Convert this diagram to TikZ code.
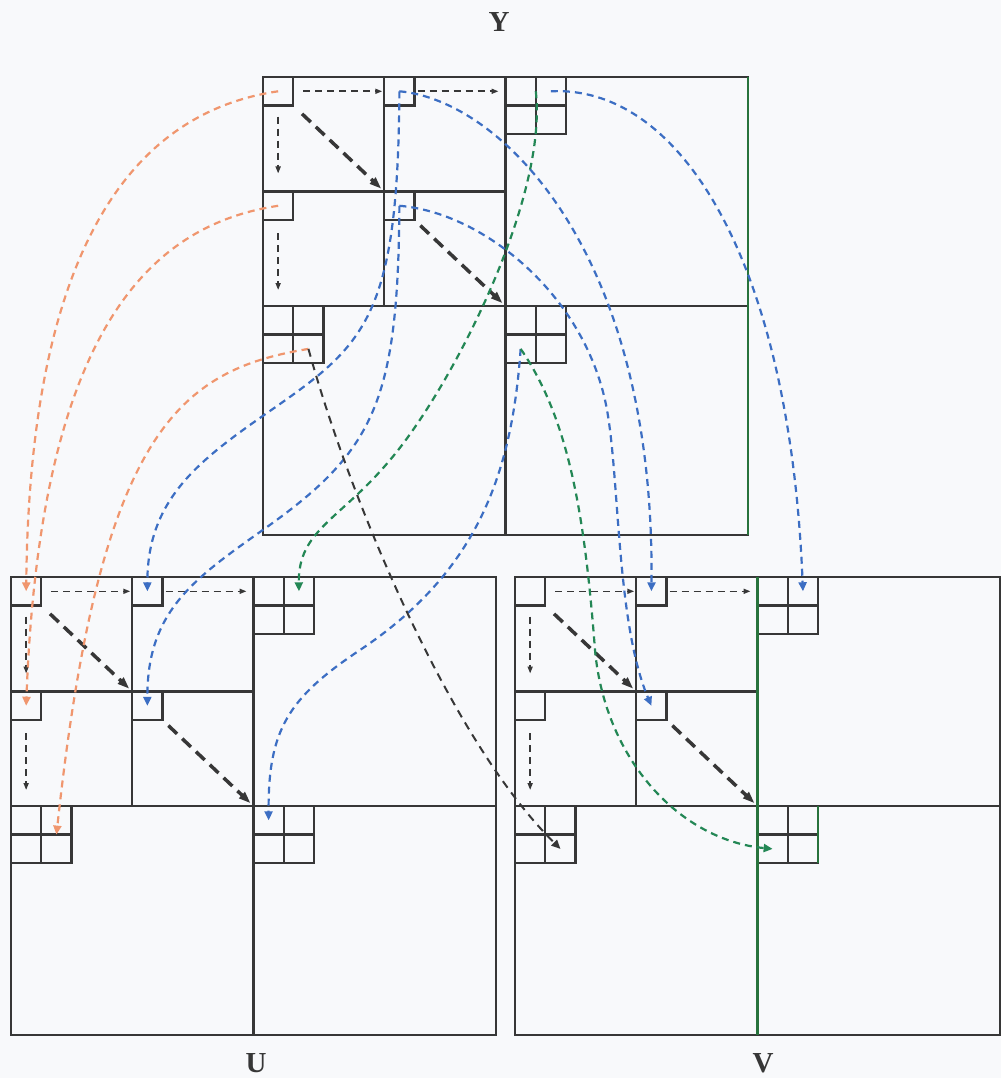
\documentclass[tikz,border=0pt]{standalone}
\usepackage{fontspec}
\setmainfont{Liberation Serif}
\usetikzlibrary{arrows.meta}
\definecolor{gridgray}{RGB}{55,55,55}
\definecolor{lineorange}{RGB}{240,150,110}
\definecolor{lineblue}{RGB}{60,110,195}
\definecolor{linegreen}{RGB}{35,135,85}
\definecolor{edgegreen}{RGB}{40,115,60}
\definecolor{paper}{RGB}{248,249,251}

\begin{document}
\begin{tikzpicture}[x=1pt, y=-1pt,
  cell/.style={rectangle, draw=gridgray, line width=2.3pt,
               minimum width=30.3pt, minimum height=28.6pt,
               inner sep=0pt, outer sep=0pt},
  grid/.style={draw=gridgray, line width=2.3pt},
  thinarr/.style={-{Triangle[length=7pt,width=5pt]}, line width=1.6pt,
                  color=gridgray, dash pattern=on 7pt off 5pt},
  thickarr/.style={-{Triangle[length=12pt,width=8pt]}, line width=3.5pt,
                   color=gridgray, dash pattern=on 12pt off 7pt},
  carr/.style={-{Triangle[length=9pt,width=8pt]}, line width=2.2pt,
               dash pattern=on 7pt off 5pt},
  lbl/.style={font=\fontsize{29}{32}\selectfont\bfseries, text=gridgray}
]

\fill[paper] (0,0) rectangle (1001,1078);
\useasboundingbox (0,0) rectangle (1001,1078);

%% ── The three blocks Y, U, V ─────────────────────────────────────────────
\foreach \nm/\ox/\oy in {Y/263/77, U/11/577, V/515/577}{
  \begin{scope}[shift={(\ox,\oy)}]
    \draw[grid] (0,0) rectangle (485,458);
    \draw[grid] (242.5,0) -- (242.5,458) (0,229) -- (485,229);
    \draw[grid] (121.25,0) -- (121.25,229) (0,114.5) -- (242.5,114.5);

    \node[cell] (\nm-a) at (15.15,14.3)   {};
    \node[cell] (\nm-b) at (136.4,14.3)   {};
    \node[cell] (\nm-c) at (15.15,128.8)  {};
    \node[cell] (\nm-d) at (136.4,128.8)  {};
    \foreach \g/\gx/\gy in {e/242.5/0, f/0/229, g/242.5/229}{
      \node[cell] (\nm-\g1) at ({\gx+15.15},{\gy+14.3}) {};
      \node[cell] (\nm-\g2) at ({\gx+45.45},{\gy+14.3}) {};
      \node[cell] (\nm-\g3) at ({\gx+15.15},{\gy+42.9}) {};
      \node[cell] (\nm-\g4) at ({\gx+45.45},{\gy+42.9}) {};
    }

    % order inside one block
    \draw[thinarr, shorten <=10pt, shorten >=2pt] (\nm-a.east) -- (\nm-b.west);
    \draw[thinarr, shorten <=3pt, shorten >=7pt] (\nm-b.east) -- (\nm-e1.west);
    \draw[thinarr, shorten <=11pt, shorten >=18pt] (\nm-a.south) -- (\nm-c.north);
    \draw[thinarr, shorten <=13pt, shorten >=16pt] (\nm-c.south) -- (\nm-f1.north);
    \draw[thickarr, shorten <=12pt, shorten >=4pt] (\nm-a.south east) -- (\nm-d.north west);
    \draw[thickarr, shorten <=8pt, shorten >=4pt] (\nm-d.south east) -- (\nm-g1.north west);
  \end{scope}
}

%% ── greenish edges ──────────────────────────────────────────────────────
\draw[grid, draw=edgegreen] (748,77) -- (748,535);
\draw[grid, draw=edgegreen] (757.5,577) -- (757.5,1035);
\draw[grid, draw=edgegreen] (V-g2.north east) -- (V-g4.south east);

%% ── Y -> U ──────────────────────────────────────────────────────────────
\draw[carr, color=lineorange] (Y-a.center)
  .. controls (150,110) and (30,220) .. (U-a.center);
\draw[carr, color=lineorange] (Y-c.center)
  .. controls (150,225) and (40,330) .. (U-c.center);
\draw[carr, color=lineorange] (Y-f4.center)
  .. controls (180,370) and (100,430) .. (U-f4.north);

\draw[carr, color=lineblue] (Y-b.center)
  .. controls (398,320) and (365,345) .. (267,413)
  .. controls (198,461) and (147,500) .. (U-b.center);
\draw[carr, color=lineblue] (Y-d.center)
  .. controls (398,400) and (375,450) .. (267,527)
  .. controls (195,578) and (147,610) .. (U-d.center);
\draw[carr, color=lineblue] (Y-g3.center)
  .. controls (512,470) and (480,570) .. (360,650)
  .. controls (288,698) and (268,730) .. (U-g1.center);

\draw[carr, color=linegreen] (Y-e2.west)
  .. controls (548,200) and (450,390) .. (390,460)
  .. controls (340,520) and (298,530) .. (U-e2.center);

%% ── Y -> V ──────────────────────────────────────────────────────────────
\draw[carr, color=lineblue] (Y-b.center)
  .. controls (500,100) and (655,250) .. (V-b.center);
\draw[carr, color=lineblue] (Y-d.center)
  .. controls (480,212) and (580,290) .. (605,400)
  .. controls (620,466) and (615,620) .. (V-d.center);
\draw[carr, color=lineblue] (Y-e2.center)
  .. controls (680,85) and (790,260) .. (V-e2.center);

\draw[carr, color=linegreen] (Y-g3.center)
  .. controls (570,420) and (585,520) .. (595,650)
  .. controls (605,760) and (680,840) .. (V-g3.center);

\draw[carr, color=gridgray, line width=2pt, dash pattern=on 8pt off 6pt] (Y-f4.center)
  .. controls (350,500) and (450,740) .. (V-f4.center);

%% ── labels ──────────────────────────────────────────────────────────────
\node[lbl] (ylabel) at (499,22)   {Y};
\node[lbl] (ulabel) at (256,1063) {U};
\node[lbl] (vlabel) at (763,1063) {V};

\end{tikzpicture}
\end{document}
